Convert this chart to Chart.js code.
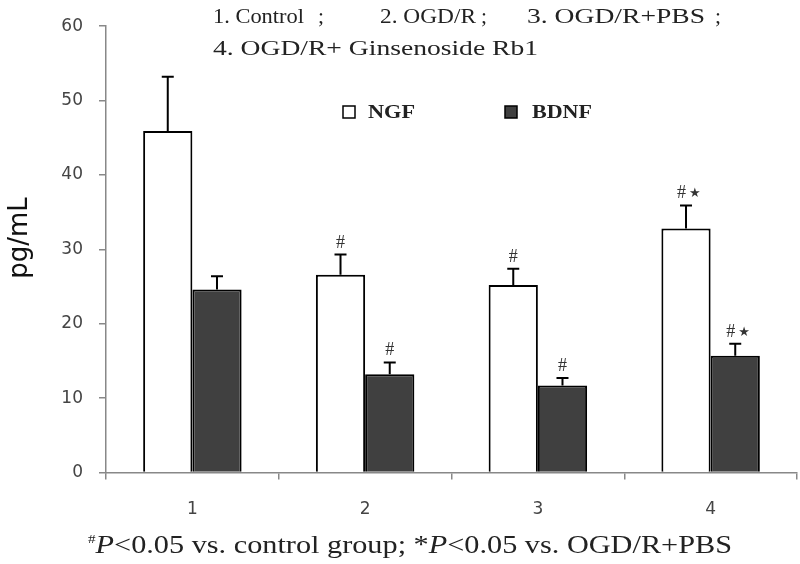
<!DOCTYPE html>
<html lang="en">
  <head>
    <meta charset="UTF-8" />
    <title>NGF / BDNF levels</title>
    <script src="https://cdn.jsdelivr.net/npm/chart.js"></script>
    <style>
      body { margin: 0; background: #fff; }
      canvas { display: block; }
    </style>
  </head>
  <body>
    <canvas id="chart" width="800" height="564"></canvas>

    <script>
      // data
      const groups = ['1', '2', '3', '4'];
      const ngf = [45.9, 26.6, 25.2, 32.8];
      const ngfErr = [7.3, 2.7, 2.2, 3.1];
      const bdnf = [24.6, 13.2, 11.7, 15.7];
      const bdnfErr = [1.8, 1.6, 1.0, 1.6];
      const ngfMarks = ['', '#', '#', '#*'];
      const bdnfMarks = ['', '#', '#', '#*'];
      const yTicks = [0, 10, 20, 30, 40, 50, 60];

      const serif = '"Liberation Serif", "DejaVu Serif", serif';
      const sans = '"DejaVu Sans", Verdana, sans-serif';

      // draw text squeezed/stretched horizontally to a given width
      function fitText(ctx, text, x, y, w) {
        const m = ctx.measureText(text).width;
        ctx.save();
        ctx.translate(x, y);
        ctx.scale(w / m, 1);
        ctx.fillText(text, 0, 0);
        ctx.restore();
      }

      const extras = {
        id: 'extras',
        afterDatasetsDraw(chart) {
          const ctx = chart.ctx;
          const y = chart.scales.y;
          const sets = [
            { vals: ngf, err: ngfErr, marks: ngfMarks },
            { vals: bdnf, err: bdnfErr, marks: bdnfMarks },
          ];
          ctx.save();
          sets.forEach((s, di) => {
            const meta = chart.getDatasetMeta(di);
            meta.data.forEach((bar, i) => {
              const top = y.getPixelForValue(s.vals[i]);
              const et = y.getPixelForValue(s.vals[i] + s.err[i]);
              ctx.strokeStyle = '#000';
              ctx.lineWidth = 2;
              ctx.beginPath();
              ctx.moveTo(bar.x, top);
              ctx.lineTo(bar.x, et);
              ctx.moveTo(bar.x - 6, et);
              ctx.lineTo(bar.x + 6, et);
              ctx.stroke();

              const m = s.marks[i];
              if (!m) return;
              ctx.fillStyle = '#333';
              ctx.textBaseline = 'alphabetic';
              ctx.font = '18px ' + serif;
              if (m === '#') {
                ctx.textAlign = 'center';
                ctx.fillText('#', bar.x, et - 7);
              } else {
                ctx.textAlign = 'right';
                ctx.fillText('#', bar.x, et - 7);
                ctx.font = '13px ' + sans;
                ctx.textAlign = 'left';
                ctx.fillText('\u2605', bar.x + 3, et - 8);
              }
            });
          });
          ctx.restore();
        },
        afterDraw(chart) {
          const ctx = chart.ctx;
          ctx.save();
          ctx.fillStyle = '#222';
          ctx.textBaseline = 'middle';
          ctx.textAlign = 'left';

          // group key at the top
          ctx.font = '21px ' + serif;
          fitText(ctx, '1. Control', 213, 17, 91);
          fitText(ctx, ';', 318, 17, 6);
          fitText(ctx, '2. OGD/R', 380, 17, 96);
          fitText(ctx, ';', 481, 17, 6);
          fitText(ctx, '3. OGD/R+PBS', 527, 17, 178);
          fitText(ctx, ';', 715, 17, 6);
          fitText(ctx, '4. OGD/R+ Ginsenoside Rb1', 213, 49, 325);

          // y title
          ctx.save();
          ctx.translate(20, 238);
          ctx.rotate(-Math.PI / 2);
          ctx.textAlign = 'center';
          ctx.fillStyle = '#111';
          ctx.font = '26px ' + sans;
          ctx.fillText('pg/mL', 0, 0);
          ctx.restore();

          // legend
          const ds = chart.data.datasets;
          const items = [
            { x: 343, tx: 368, w: 47 },
            { x: 505, tx: 532, w: 60 },
          ];
          items.forEach((it, i) => {
            ctx.fillStyle = ds[i].backgroundColor;
            ctx.strokeStyle = '#000';
            ctx.lineWidth = 1.5;
            ctx.fillRect(it.x, 106, 12, 12);
            ctx.strokeRect(it.x, 106, 12, 12);
            ctx.fillStyle = '#222';
            ctx.font = 'bold 19px ' + serif;
            fitText(ctx, ds[i].label, it.tx, 113, it.w);
          });

          // footnote, fitted to the reference width
          ctx.textBaseline = 'alphabetic';
          const parts = [
            ['#', '13px ' + serif, -10],
            ['P', 'italic 26px ' + serif, 0],
            ['<0.05 vs. control group; *', '26px ' + serif, 0],
            ['P', 'italic 26px ' + serif, 0],
            ['<0.05 vs. OGD/R+PBS', '26px ' + serif, 0],
          ];
          let total = 0;
          parts.forEach(([t, f]) => { ctx.font = f; total += ctx.measureText(t).width; });
          const k = 644 / total;
          ctx.translate(88, 553);
          ctx.scale(k, 1);
          let x = 0;
          parts.forEach(([t, f, dy]) => {
            ctx.font = f;
            ctx.fillText(t, x, dy);
            x += ctx.measureText(t).width;
          });
          ctx.restore();
        },
      };

      new Chart(document.getElementById('chart'), {
        type: 'bar',
        data: {
          labels: groups,
          datasets: [
            {
              label: 'NGF',
              data: ngf,
              backgroundColor: '#ffffff',
              borderColor: '#000000',
              borderWidth: 2,
            },
            {
              label: 'BDNF',
              data: bdnf,
              backgroundColor: '#404040',
              borderColor: '#000000',
              borderWidth: 2,
            },
          ],
        },
        options: {
          responsive: false,
          animation: false,
          devicePixelRatio: 1,
          layout: { padding: { top: 21, right: 3, left: 0, bottom: 0 } },
          datasets: {
            bar: { categoryPercentage: 0.57, barPercentage: 1.0 },
          },
          plugins: {
            legend: { display: false },
            tooltip: { enabled: false },
          },
          scales: {
            x: {
              afterFit: (s) => { s.height = 91.5; },
              border: { color: '#888', width: 1.5 },
              grid: {
                drawOnChartArea: false,
                tickLength: 7,
                color: '#888',
                lineWidth: 1.5,
                offset: true,
              },
              ticks: {
                padding: 20,
                color: '#444',
                font: { family: sans, size: 17 },
              },
            },
            y: {
              min: 0,
              max: 60,
              afterFit: (s) => { s.width = 106; },
              afterBuildTicks: (s) => { s.ticks = yTicks.map((v) => ({ value: v })); },
              border: { color: '#888', width: 1.5 },
              grid: {
                drawOnChartArea: false,
                tickLength: 7,
                color: '#888',
                lineWidth: 1.5,
              },
              ticks: {
                padding: 16,
                color: '#444',
                font: { family: sans, size: 17 },
              },
            },
          },
        },
        plugins: [extras],
      });
    </script>
  </body>
</html>
